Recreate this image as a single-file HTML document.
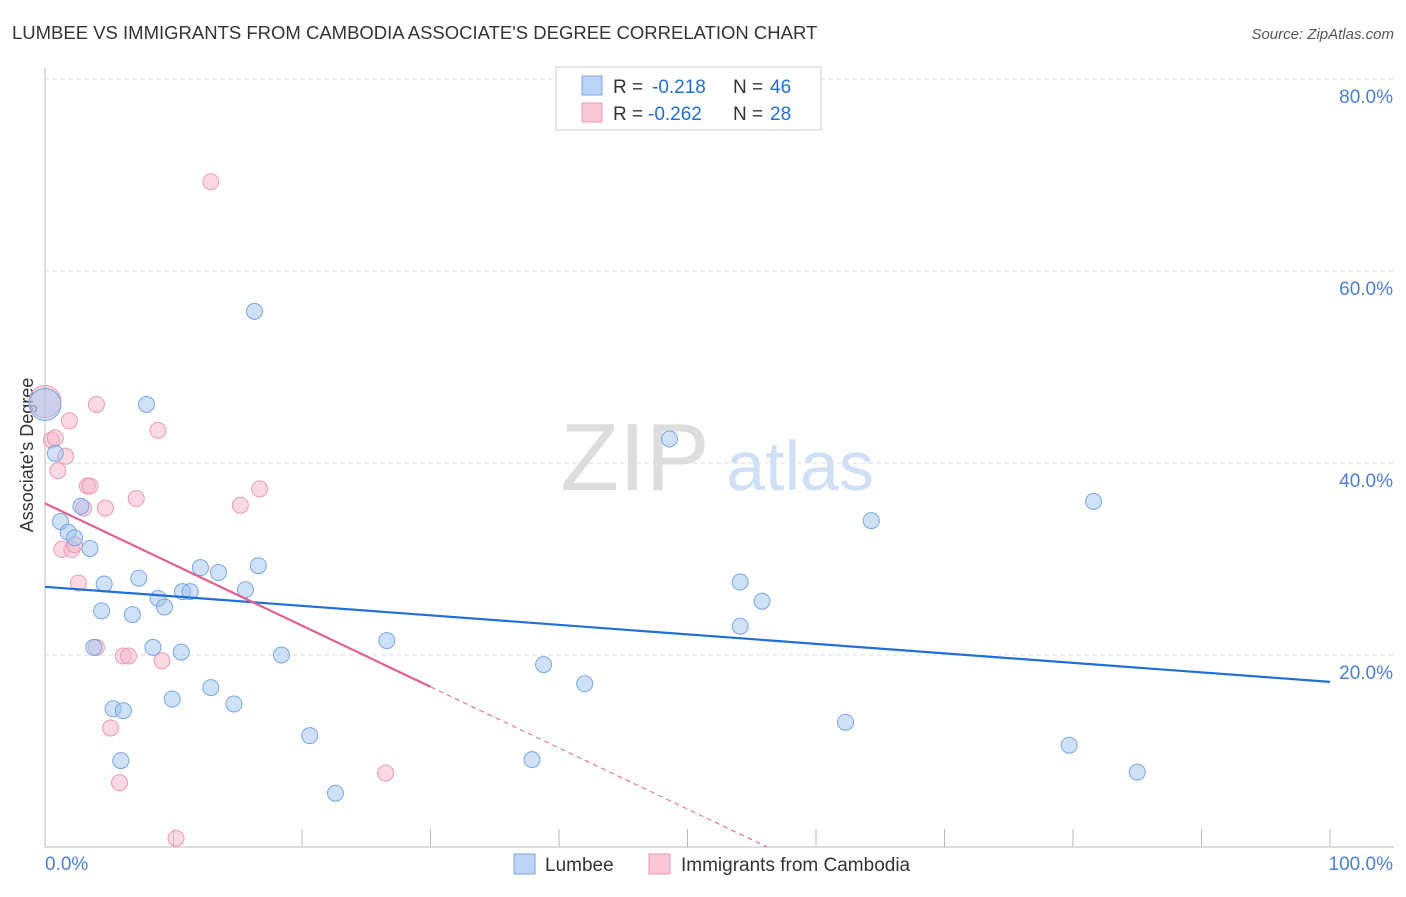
<!DOCTYPE html>
<html><head><meta charset="utf-8"><style>
body{margin:0;background:#fff;font-family:"Liberation Sans",sans-serif;}
svg text{font-family:"Liberation Sans",sans-serif;}
</style></head><body>
<svg id="c" width="1406" height="892" xmlns="http://www.w3.org/2000/svg">
<text x="12" y="39" font-size="18.5" fill="#333">LUMBEE VS IMMIGRANTS FROM CAMBODIA ASSOCIATE'S DEGREE CORRELATION CHART</text>
<text x="1394" y="39" font-size="15" fill="#555" font-style="italic" text-anchor="end">Source: ZipAtlas.com</text>
<text x="635" y="490" font-size="96" fill="#ddd" font-family="Liberation Serif" text-anchor="middle">ZIP</text>
<text x="800" y="490" font-size="70" fill="#cfe0f5" text-anchor="middle">atlas</text>
<text x="33" y="455" font-size="18" fill="#333" text-anchor="middle" transform="rotate(-90 33 455)">Associate's Degree</text>
<g id="grid"></g><g id="marks"></g>
<g>
<rect x="556" y="67" width="265" height="63" fill="#fff" stroke="#ccc"/>
<rect x="582" y="76" width="20" height="19" fill="#bcd4f5" stroke="#7aa6e0"/>
<rect x="582" y="103" width="20" height="19" fill="#f9c6d5" stroke="#e99ab4"/>
<text x="613" y="93" font-size="19" fill="#333">R =</text>
<text x="652" y="93" font-size="19" fill="#1f6fd6">-0.218</text>
<text x="733" y="93" font-size="19" fill="#333">N =</text>
<text x="770" y="93" font-size="19" fill="#1f6fd6">46</text>
<text x="613" y="120" font-size="19" fill="#333">R =</text>
<text x="648" y="120" font-size="19" fill="#1f6fd6">-0.262</text>
<text x="733" y="120" font-size="19" fill="#333">N =</text>
<text x="770" y="120" font-size="19" fill="#1f6fd6">28</text>
</g>
<g>
<rect x="514" y="854" width="21" height="20" fill="#bcd4f5" stroke="#7aa6e0"/>
<text x="545" y="871" font-size="19" fill="#333">Lumbee</text>
<rect x="649" y="854" width="21" height="20" fill="#f9c6d5" stroke="#e99ab4"/>
<text x="681" y="871" font-size="19" fill="#333">Immigrants from Cambodia</text>
</g>
</svg>
<script>
const blueX=[0,0.8,1.2,1.8,2.3,3.5,2.8,4.6,4.4,3.8,5.3,6.1,5.9,6.8,7.3,7.9,8.4,8.8,9.3,9.9,10.6,10.7,11.3,12.1,12.9,13.5,14.7,15.6,16.3,16.6,18.4,20.6,22.6,26.6,37.9,38.8,42.0,48.6,54.1,54.1,55.8,62.3,64.3,79.7,81.6,85.0];
const blueY=[46.1,41.0,33.9,32.8,32.2,31.1,35.5,27.4,24.6,20.8,14.4,14.2,9.0,24.2,28.0,46.1,20.8,25.9,25.0,15.4,20.3,26.6,26.6,29.1,16.6,28.6,14.9,26.8,55.8,29.3,20.0,11.6,5.6,21.5,9.1,19.0,17.0,42.5,27.6,23.0,25.6,13.0,34.0,10.6,36.0,7.8];
const pinkX=[0,0.5,0.8,1.0,1.3,1.6,1.9,2.1,2.3,2.6,3.0,3.3,3.5,4.0,4.0,4.7,5.1,5.8,6.1,6.5,7.1,8.8,9.1,10.2,12.9,15.2,16.7,26.5];
const pinkY=[46.4,42.4,42.6,39.2,31.0,40.7,44.4,31.0,31.5,27.5,35.3,37.6,37.6,46.1,20.8,35.3,12.4,6.7,19.9,19.9,36.3,43.4,19.4,0.9,69.3,35.6,37.3,7.7];
const yTicks=[20,40,60,80];
const xTickVals=[0,10,20,30,40,50,60,70,80,90,100];
const blueTrend=[27.1,17.2];
const pinkTrend=[35.8,-0.637];
const sx=v=>45+v*12.85, sy=v=>847-v*9.6;
const NS="http://www.w3.org/2000/svg";
const grid=document.getElementById('grid'),marks=document.getElementById('marks');
function mk(p,tag,a){const e=document.createElementNS(NS,tag);for(const k in a)e.setAttribute(k,a[k]);p.appendChild(e);return e;}
yTicks.forEach(t=>{
 const l=mk(grid,'line',{x1:45,x2:1394,y1:sy(t),y2:sy(t),stroke:'#ddd','stroke-dasharray':'4,4'});
 
 
 const tx=mk(grid,'text',{x:1393,y:sy(t)+24,'font-size':19,fill:'#4a7fd4','text-anchor':'end'});tx.textContent=t.toFixed(1)+'%';
 
 
});
const ax=mk(grid,'line',{x1:45,x2:1394,y1:847,y2:847,stroke:'#bbb'});


const ay=mk(grid,'line',{x1:45,x2:45,y1:68,y2:847,stroke:'#bbb'});


xTickVals.forEach(t=>{const l=mk(grid,'line',{x1:sx(t),x2:sx(t),y1:829,y2:847,stroke:'#bbb'});
 
 });
[[0,'0.0%','start',45],[100,'100.0%','end',1393]].forEach(d=>{const t=mk(grid,'text',{x:d[3],y:870,'font-size':19,fill:'#4a7fd4','text-anchor':d[2]});t.textContent=d[1];
 
 });
function pts(X,Y,fill,stroke,name){X.forEach((x,i)=>{const c=mk(marks,'circle',{cx:sx(x),cy:sy(Y[i]),r:x===0?16:8,fill:fill,stroke:stroke,'stroke-width':1});
 
 });}
pts(pinkX,pinkY,'rgba(246,180,200,0.5)','#e99ab4','cambodia-point');
pts(blueX,blueY,'rgba(160,195,240,0.5)','#7aa6e0','lumbee-point');
const bl=mk(marks,'line',{x1:sx(0),y1:sy(blueTrend[0]),x2:sx(100),y2:sy(blueTrend[1]),stroke:'#1f6fd6','stroke-width':2.2});


const pl=mk(marks,'line',{x1:sx(0),y1:sy(pinkTrend[0]),x2:sx(30),y2:sy(pinkTrend[0]+pinkTrend[1]*30),stroke:'#e0608a','stroke-width':2.2});


const xe=-pinkTrend[0]/pinkTrend[1];
const pd=mk(marks,'line',{x1:sx(30),y1:sy(pinkTrend[0]+pinkTrend[1]*30),x2:sx(xe),y2:sy(0),stroke:'#e0608a','stroke-width':1,'stroke-dasharray':'5,4'});


</script>
</body></html>
